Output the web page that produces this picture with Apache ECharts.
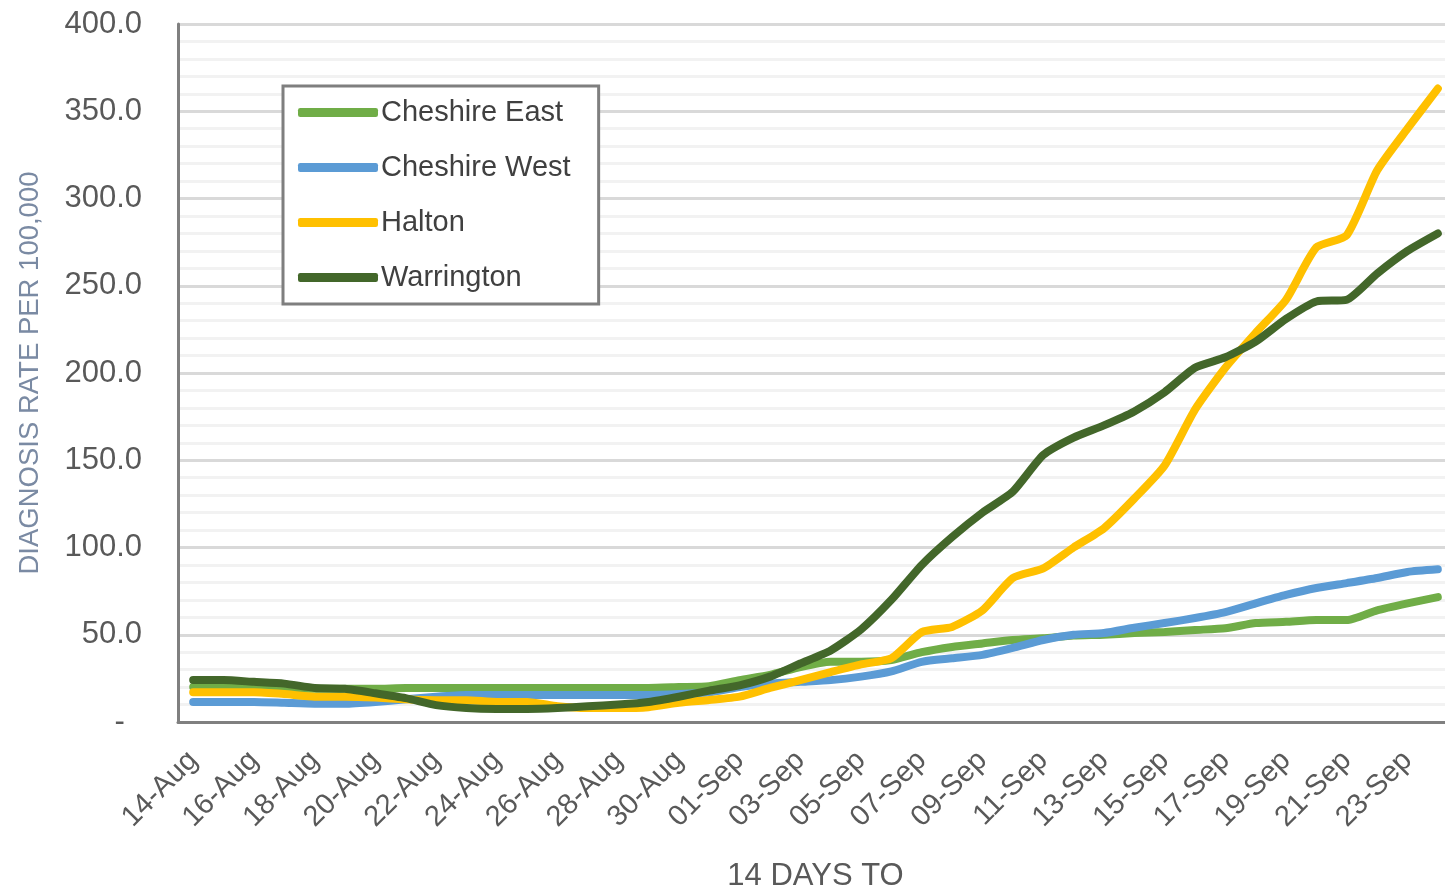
<!DOCTYPE html>
<html>
<head>
<meta charset="utf-8">
<script src="https://cdn.jsdelivr.net/npm/echarts@6/dist/echarts.min.js"></script>
<style>
html,body{margin:0;padding:0;background:#fff;}
#chart{width:1445px;height:890px;}
</style>
</head>
<body>
<div id="chart"></div>
<script>
const dates = ['14-Aug','15-Aug','16-Aug','17-Aug','18-Aug','19-Aug','20-Aug','21-Aug','22-Aug','23-Aug','24-Aug','25-Aug','26-Aug','27-Aug','28-Aug','29-Aug','30-Aug','31-Aug',
  '01-Sep','02-Sep','03-Sep','04-Sep','05-Sep','06-Sep','07-Sep','08-Sep','09-Sep','10-Sep','11-Sep','12-Sep','13-Sep','14-Sep','15-Sep','16-Sep','17-Sep','18-Sep','19-Sep','20-Sep','21-Sep','22-Sep','23-Sep','24-Sep'];

const cheshireEast = [20, 20, 20, 19.5, 19, 19, 19, 19.5, 19.5, 19.5, 19.5, 19.5, 19.5, 19.5, 19.5, 19.5, 20, 20.5,
  24, 27, 31.5, 34.5, 34.5, 35.5, 40, 43, 45, 47, 48, 49.5, 50, 51, 51.6, 52.7, 53.7, 56.7, 57.4, 58.4, 58.4, 64, 68, 71.6];

const cheshireWest = [11.5, 11.5, 11.5, 11, 10.5, 10.5, 11.5, 13, 14.5, 15.5, 15.5, 15.5, 15.5, 15.5, 15.5, 15.5, 16, 17,
  20, 22, 23, 24, 26, 29, 34.5, 36.5, 38.5, 42.5, 47, 50, 51, 54, 56.7, 59.6, 63, 68, 72.8, 76.8, 79.6, 82.5, 86, 87.5];

const halton = [17, 17, 17, 16, 14.5, 14.5, 14, 13, 12.5, 12.5, 11.5, 11.5, 9, 8, 8, 8.5, 11, 12.6,
  14.5, 19.5, 24, 28.6, 33, 36.5, 51.5, 54.5, 64, 82.5, 88, 100, 111, 128, 147, 179, 203, 223, 242, 272, 279, 316, 340, 363];

const warrington = [24, 24, 23, 22, 19.5, 19, 16.5, 13.7, 9.7, 8, 7.5, 7.5, 8, 9, 10, 11.5, 14.5, 18,
  21, 26, 33.5, 41, 53, 70, 90, 106, 120, 132, 153, 163, 170, 178, 189, 203, 209, 218, 231, 241, 242, 257, 270, 280];

const seriesNames = ['Cheshire East', 'Cheshire West', 'Halton', 'Warrington'];
const seriesColors = ['#70AD47', '#5B9BD5', '#FFC000', '#43672A'];
const seriesData = [cheshireEast, cheshireWest, halton, warrington];

const chart = echarts.init(document.getElementById('chart'));
const FONT = 'Liberation Sans';

chart.setOption({
  animation: false,
  backgroundColor: '#ffffff',
  grid: { left: 178, top: 24, right: -8, bottom: 168, containLabel: false, outerBoundsMode: 'none' },
  legend: {
    orient: 'vertical',
    left: 283,
    top: 86,
    data: seriesNames,
    icon: 'roundRect',
    itemWidth: 80,
    itemHeight: 9,
    itemGap: 26,
    padding: [12, 28, 12, 15],
    borderColor: '#7f7f7f',
    borderWidth: 3,
    backgroundColor: '#ffffff',
    textStyle: { fontFamily: FONT, fontSize: 29, color: '#404040', padding: [0,0,0,-2] }
  },
  xAxis: {
    type: 'category',
    data: dates,
    boundaryGap: true,
    name: '14 DAYS TO',
    nameLocation: 'middle',
    nameGap: 139,
    nameTextStyle: { fontFamily: FONT, fontSize: 31, color: '#595959' },
    axisLine: { show: true, lineStyle: { color: '#808080', width: 3 } },
    axisTick: { show: false },
    axisLabel: { interval: 1, rotate: 45, margin: 34, fontFamily: FONT, fontSize: 29, color: '#595959' },
    splitLine: { show: false }
  },
  yAxis: {
    type: 'value',
    min: 0, max: 400, interval: 50,
    name: 'DIAGNOSIS RATE PER 100,000',
    nameLocation: 'middle',
    nameGap: 134,
    nameRotate: 90,
    nameTextStyle: { fontFamily: FONT, fontSize: 27.5, color: '#7a8aa3' },
    axisLine: { show: true, lineStyle: { color: '#808080', width: 3 } },
    axisTick: { show: false },
    axisLabel: {
      margin: 36, fontFamily: FONT, fontSize: 31, color: '#595959',
      formatter: function (v) { return v === 0 ? '-  ' : v.toFixed(1); }
    },
    splitLine: { show: true, lineStyle: { color: '#d9d9d9', width: 3 } },
    minorTick: { show: false, splitNumber: 5 },
    minorSplitLine: { show: true, lineStyle: { color: '#f2f2f2', width: 3 } }
  },
  series: seriesNames.map((n, i) => ({
    name: n,
    type: 'line',
    data: seriesData[i],
    smooth: 0.2,
    symbol: 'none',
    color: seriesColors[i],
    lineStyle: { color: seriesColors[i], width: 8, cap: 'round', join: 'round' },
    z: 2 + i
  }))
});
</script>
</body>
</html>
